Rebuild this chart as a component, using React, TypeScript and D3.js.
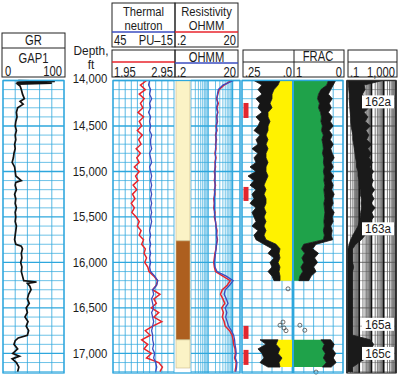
import React from 'react';
import * as d3 from 'd3';

// ---------- data ----------
const depthTicks = [14000, 14500, 15000, 15500, 16000, 16500, 17000];
const depthLabels = ['14,000', '14,500', '15,000', '15,500', '16,000', '16,500', '17,000'];
const sampleDepths = d3.range(14000, 17201, 50); // 65 sample depths

const grDepth = [14000, 14010, 14020, 14030, 14040, 14060, 14100, 14150, 14200, 14230, 14260, 14300, 14350, 14400, 14450, 14500, 14550, 14600, 14650, 14700, 14750, 14800, 14850, 14900, 14950, 15000, 15050, 15100, 15120, 15150, 15200, 15250, 15300, 15350, 15400, 15450, 15500, 15550, 15600, 15650, 15700, 15750, 15800, 15820, 15850, 15900, 15950, 16000, 16050, 16100, 16150, 16200, 16215, 16230, 16260, 16300, 16350, 16400, 16450, 16500, 16550, 16600, 16650, 16700, 16750, 16800, 16830, 16860, 16900, 16950, 17000, 17030, 17060, 17100, 17150, 17200];
const grValue = [25, 85, 22, 80, 24, 28, 30, 32, 35, 28, 33, 24, 22, 23, 21, 20, 22, 20, 21, 19, 20, 18, 17, 15, 19, 20, 21, 30, 21, 20, 22, 19, 21, 20, 22, 20, 21, 20, 22, 21, 20, 19, 21, 30, 32, 30, 31, 29, 31, 30, 32, 34, 55, 40, 44, 46, 42, 40, 43, 38, 40, 36, 41, 38, 42, 40, 25, 20, 18, 24, 16, 27, 15, 22, 26, 24];

const density = [
  2.50, 2.40, 2.48, 2.38, 2.46, 2.40, 2.44, 2.36, 2.45, 2.38,
  2.42, 2.35, 2.43, 2.37, 2.41, 2.33, 2.40, 2.34, 2.38, 2.30,
  2.38, 2.32, 2.36, 2.28, 2.34, 2.27, 2.31, 2.25, 2.30, 2.26,
  2.33, 2.38, 2.35, 2.41, 2.38, 2.45, 2.42, 2.48, 2.46, 2.50,
  2.47, 2.52, 2.54, 2.62, 2.68, 2.66, 2.60, 2.72, 2.62, 2.66,
  2.58, 2.70, 2.62, 2.75, 2.60, 2.48, 2.56, 2.42, 2.52, 2.46,
  2.58, 2.50, 2.70, 2.76, 2.72];
const neutron = [
  9, 10, 8, 9, 7, 9, 8, 10, 8, 9,
  8, 9, 7, 8, 8, 7, 9, 8, 7, 9,
  8, 7, 8, 7, 8, 7, 8, 7, 8, 7,
  8, 7, 8, 9, 8, 9, 8, 9, 8, 9,
  8, 9, 8, 4, 1, 2, 6, 5, 7, 6,
  5, 7, 6, 5, 6, 7, 6, 6, 5, 6,
  4, 5, 3, 2, 3];
const resRed = [
  9, 4.5, 2.8, 2.5, 2.2, 2.6, 2.3, 2.5, 2.2, 2.4,
  2.1, 2.3, 2.0, 2.2, 2.0, 2.1, 1.9, 2.1, 1.9, 2.0,
  1.8, 1.9, 1.8, 2.0, 1.8, 1.9, 1.7, 1.8, 1.7, 1.9,
  1.8, 2.0, 2.1, 2.3, 2.2, 2.4, 2.2, 2.1, 1.9, 1.8,
  1.7, 1.8, 2.0, 4.0, 8.0, 6.0, 3.8, 3.2, 4.0, 4.8,
  3.6, 4.2, 3.8, 4.5, 5.0, 7.5, 9.5, 10.5, 11.0, 12.5,
  13, 12, 14, 13.5, 12.5];
const resBlue = [
  11, 4, 2.6, 2.4, 2.3, 2.4, 2.2, 2.4, 2.3, 2.3,
  2.2, 2.2, 2.1, 2.1, 2.1, 2.0, 2.0, 2.0, 2.0, 1.9,
  1.9, 1.9, 1.9, 1.9, 1.9, 1.8, 1.8, 1.8, 1.8, 1.8,
  1.9, 2.0, 2.1, 2.2, 2.2, 2.3, 2.2, 2.1, 2.0, 1.9,
  1.8, 1.9, 2.3, 5.5, 10.5, 7.5, 5.0, 4.5, 5.5, 6.5,
  5.0, 5.8, 5.2, 6.0, 6.8, 9.0, 11, 12, 12.5, 13.5,
  14, 13, 15, 14.5, 13.5];

const N = null;
const phiBase = [
  .06, .07, .09, .10, .10, .11, .10, .12, .12, .11,
  .12, .12, .13, .12, .13, .12, .13, .13, .12, .13,
  .13, .12, .13, .14, .13, .14, .13, .13, .14, .13,
  .14, .13, .14, .13, .14, .13, .08, .06, .065, .06,
  .07, .06, .065, .06, .06, N, N, N, N, N,
  N, N, N, N, N, N, N, .07, .08, .06,
  .07, .05, .065, .06, N];
const phiEnv = [
  .19, .15, .17, .15, .18, .16, .17, .15, .18, .16,
  .17, .19, .16, .18, .17, .20, .17, .19, .18, .21,
  .18, .22, .19, .21, .18, .20, .19, .21, .18, .20,
  .19, .18, .20, .17, .19, .18, .14, .10, .12, .09,
  .11, .10, .12, .10, .09, N, N, N, N, N,
  N, N, N, N, N, N, N, .16, .13, .17,
  .15, .14, .16, .12, N];
const satBase = [
  .30, .33, .45, .50, .52, .48, .50, .46, .44, .45,
  .42, .44, .40, .43, .41, .40, .42, .39, .40, .38,
  .40, .38, .39, .37, .39, .38, .37, .39, .38, .37,
  .38, .39, .38, .40, .38, .40, .80, .85, .78, .84,
  .80, .86, .82, .88, .90, N, N, N, N, N,
  N, N, N, N, N, N, N, .45, .38, .42,
  .36, .40, .34, .42, N];
const satEnv = [
  .15, .20, .25, .30, .22, .28, .24, .30, .22, .26,
  .20, .28, .22, .26, .20, .25, .22, .18, .24, .20,
  .26, .19, .24, .20, .23, .18, .22, .20, .24, .18,
  .22, .20, .25, .22, .24, .21, .55, .62, .50, .58,
  .52, .60, .55, .65, .70, N, N, N, N, N,
  N, N, N, N, N, N, N, .25, .18, .22,
  .15, .20, .14, .24, N];

const res5Lo = [
  .12, .13, .14, .15, .15, .16, .17, .18, .2, .2,
  .22, .25, .3, .3, .35, .4, .45, .5, .6, .6,
  .8, .8, 1.0, 1.0, 1.2, 1.2, 1.5, 1.4, 1.5, 1.3,
  1.2, 1.0, .8, .5, .3, .2, .15, .12, .12, .12,
  .12, .12, .12, .12, .12, .12, .12, .12, .12, .12,
  .12, .12, .12, .12, .12, .12, .12, .12, .12, .12,
  .12, .12, .12, .12, .12];
const res5Hi = [
  80, 2.5, 3.0, 1.8, 4.0, 2.0, 6.0, 2.5, 5.0, 3.0,
  8, 3.5, 6, 4, 10, 5, 9, 6, 12, 7,
  15, 8, 14, 9, 18, 10, 16, 9, 20, 10,
  15, 8, 12, 5, 3, 1.5, .5, .3, .3, .3,
  .3, .35, .3, .3, .3, .3, .3, .3, .3, .3,
  .3, .3, .3, .3, .3, .3, .3, 8, 15, 10,
  6, 4, 1, .3, .3];

const lithoTop = [14000, 15763, 16851];
const lithoBottom = [15763, 16851, 17160];
const lithoType = ['sand', 'shale', 'sand'];

const flagTop = [14247, 15170, 16697, 16961];
const flagBottom = [14412, 15324, 16840, 17126];

const circleLeftDepth = [16290, 16655, 16690, 16720, 16750];
const circleLeftValue = [.02, .045, .06, .04, .03];
const circleRightDepth = [16690, 16745, 17205];
const circleRightValue = [.88, .78, .55];

const zoneNames = ['162a', '163a', '165a', '165c'];
const zoneDepth = [14235, 15630, 16680, 17000];

// ---------- styling ----------
const GRID = '#2ea7dd';
const FONT = "'Liberation Sans', Arial, sans-serif";
const TXT = '#1c1c1c';
const TOP = 80.5;
const BOT = 373;

const y = d3.scaleLinear().domain([14000, 17215]).range([TOP, BOT]);
const gridDepths = d3.range(14000, 17201, 100);

const xGR = d3.scaleLinear().domain([0, 100]).range([3, 64]);
const xNeu = d3.scaleLinear().domain([45, -15]).range([113, 174]);
const xDen = d3.scaleLinear().domain([1.95, 2.95]).range([113, 174]);
const xRes = d3.scaleLog().domain([0.2, 20]).range([191, 240]);
const xPhi = d3.scaleLinear().domain([0.25, 0]).range([242, 292]);
const xSat = d3.scaleLinear().domain([1, 0]).range([294, 343]);
const xR5 = d3.scaleLog().domain([0.1, 1000]).range([347, 396]);

function HGrid({ x0, x1, color = GRID }: { x0: number; x1: number; color?: string }) {
  return (
    <g>
      {gridDepths.map((d) => (
        <line key={d} x1={x0} x2={x1} y1={y(d)} y2={y(d)} stroke={color}
          strokeWidth={d % 500 === 0 ? 1.3 : 0.7} />
      ))}
    </g>
  );
}

function VLin({ x0, x1, n, color = GRID }: { x0: number; x1: number; n: number; color?: string }) {
  const xs = d3.range(n + 1).map((i) => x0 + ((x1 - x0) * i) / n);
  return (
    <g>
      {xs.map((x, i) => (
        <line key={i} x1={x} x2={x} y1={TOP} y2={BOT} stroke={color} strokeWidth={0.8} />
      ))}
    </g>
  );
}

function logLines(scale: d3.ScaleLogarithmic<number, number>, lo: number, hi: number) {
  const out: { v: number; major: boolean }[] = [];
  let dec = Math.pow(10, Math.floor(Math.log10(lo)));
  while (dec <= hi) {
    for (let m = 1; m <= 9; m++) {
      const v = m * dec;
      if (v >= lo * 0.999 && v <= hi * 1.001) out.push({ v, major: m === 1 });
    }
    dec *= 10;
  }
  return out.map((o) => ({ x: scale(o.v), major: o.major }));
}

function Box({ x, y0, w, h }: { x: number; y0: number; w: number; h: number }) {
  return <rect x={x} y={y0} width={w} height={h} fill="none" stroke="#222" strokeWidth={1} />;
}

function T({ x, yy, children, anchor = 'start', size = 14, sx = 0.8 }: any) {
  return (
    <text transform={`translate(${x},${yy}) scale(${sx},1)`} fontFamily={FONT} fontSize={size}
      fill={TXT} textAnchor={anchor}>
      {children}
    </text>
  );
}

export default function App() {
  const grLine = d3.line<number>().x((_, i) => xGR(grValue[i])).y((d) => y(d))(grDepth) || '';
  const denLine = d3.line<number>().x((_, i) => xDen(density[i])).y((d) => y(d))(sampleDepths) || '';
  const neuLine = d3.line<number>().x((_, i) => xNeu(neutron[i])).y((d) => y(d))(sampleDepths) || '';
  const resRLine = d3.line<number>().x((_, i) => xRes(resRed[i])).y((d) => y(d))(sampleDepths) || '';
  const resBLine = d3.line<number>().x((_, i) => xRes(resBlue[i])).y((d) => y(d))(sampleDepths) || '';

  const defined = (_: number, i: number) => phiBase[i] != null;
  const phiBlack = d3.area<number>().defined(defined)
    .x0((_, i) => xPhi(phiEnv[i] as number)).x1((_, i) => xPhi(phiBase[i] as number)).y((d) => y(d))(sampleDepths) || '';
  const phiYellow = d3.area<number>().defined(defined)
    .x0((_, i) => xPhi(phiBase[i] as number)).x1(() => xPhi(0)).y((d) => y(d))(sampleDepths) || '';
  const satGreen = d3.area<number>().defined(defined)
    .x0(() => xSat(1)).x1((_, i) => xSat(satBase[i] as number)).y((d) => y(d))(sampleDepths) || '';
  const satBlack = d3.area<number>().defined(defined)
    .x0((_, i) => xSat(satBase[i] as number)).x1((_, i) => xSat(satEnv[i] as number)).y((d) => y(d))(sampleDepths) || '';
  const r5Area = d3.area<number>()
    .x0((_, i) => xR5(res5Lo[i])).x1((_, i) => xR5(res5Hi[i])).y((d) => y(d))(sampleDepths) || '';

  const resGrid = logLines(xRes, 0.2, 20);
  const r5Grid = logLines(xR5, 0.1, 1000);

  return (
    <div style={{ position: 'absolute', left: 0, top: 0 }}>
      <svg width={400} height={378} style={{ display: 'block', background: '#fff' }}>
        {/* ---------- GR track ---------- */}
        <HGrid x0={3} x1={64} />
        <VLin x0={3} x1={64} n={5} />
        <path d={grLine} fill="none" stroke="#111" strokeWidth={1.7} />
        <rect x={3} y={TOP} width={61} height={BOT - TOP} fill="none" stroke={GRID} strokeWidth={1.3} />

        {/* ---------- depth labels ---------- */}
        <T x={91} yy={55} anchor="middle" size={12.5} sx={0.95}>Depth,</T>
        <T x={91} yy={69} anchor="middle" size={12.5} sx={0.95}>ft</T>
        {depthTicks.map((d, i) => (
          <T key={d} x={90} yy={i === 0 ? 83 : y(d) + 4.5} anchor="middle" size={13} sx={0.87}>{depthLabels[i]}</T>
        ))}

        {/* ---------- neutron / density track ---------- */}
        <HGrid x0={113} x1={174} />
        <VLin x0={113} x1={174} n={10} />
        <HGrid x0={191} x1={240} />
        {resGrid.map((g, i) => (
          <line key={i} x1={g.x} x2={g.x} y1={TOP} y2={BOT} stroke={GRID} strokeWidth={g.major ? 1.2 : 0.7} />
        ))}
        {lithoTop.map((t, i) => (
          <rect key={i} x={176} y={y(t)} width={14} height={y(lithoBottom[i]) - y(t)}
            fill={lithoType[i] === 'sand' ? '#fbf3c6' : '#ad5f1f'} stroke="#c9b98a" strokeWidth={0.6} />
        ))}
        <path d={denLine} fill="none" stroke="#e8252c" strokeWidth={1.5} />
        <path d={neuLine} fill="none" stroke="#3b4cc0" strokeWidth={1.3} />
        <path d={resRLine} fill="none" stroke="#e8252c" strokeWidth={1.5} />
        <path d={resBLine} fill="none" stroke="#3b4cc0" strokeWidth={1.3} />
        <rect x={113} y={TOP} width={127} height={BOT - TOP} fill="none" stroke={GRID} strokeWidth={1.3} />

        {/* ---------- FRAC track ---------- */}
        <HGrid x0={242} x1={343} />
        <VLin x0={242} x1={292} n={5} />
        <VLin x0={294} x1={343} n={5} />
        <path d={phiYellow} fill="#fff200" />
        <path d={phiBlack} fill="#161616" stroke="#161616" strokeWidth={0.8} />
        <path d={satGreen} fill="#1fa24a" />
        <path d={satBlack} fill="#161616" stroke="#161616" strokeWidth={0.8} />
        <line x1={293} x2={293} y1={TOP} y2={BOT} stroke={GRID} strokeWidth={2} />
        {flagTop.map((t, i) => (
          <rect key={i} x={243.5} y={y(t)} width={5} height={y(flagBottom[i]) - y(t)} fill="#e3262e" />
        ))}
        {circleLeftDepth.map((d, i) => (
          <circle key={'l' + i} cx={xPhi(circleLeftValue[i])} cy={y(d)} r={2} fill="none" stroke="#333" strokeWidth={0.7} />
        ))}
        {circleRightDepth.map((d, i) => (
          <circle key={'r' + i} cx={xSat(circleRightValue[i])} cy={y(d)} r={2} fill="none" stroke="#333" strokeWidth={0.7} />
        ))}
        <rect x={242} y={TOP} width={101} height={BOT - TOP} fill="none" stroke={GRID} strokeWidth={1.3} />

        {/* ---------- track 5 ---------- */}
        <HGrid x0={347} x1={396} color="#8a8a8a" />
        {r5Grid.map((g, i) => (
          <line key={i} x1={g.x} x2={g.x} y1={TOP} y2={BOT} stroke={g.major ? '#111' : '#555'} strokeWidth={g.major ? 1.6 : 0.8} />
        ))}
        <path d={r5Area} fill="#1a1a1a" stroke="#1a1a1a" strokeWidth={0.8} />
        {zoneNames.map((z, i) => (
          <g key={z}>
            <rect x={362} y={y(zoneDepth[i]) - 6.5} width={32} height={13} fill="#fff" />
            <T x={378} yy={y(zoneDepth[i]) + 4.5} anchor="middle" size={13} sx={0.9}>{z}</T>
          </g>
        ))}
        <rect x={347} y={TOP} width={49} height={BOT - TOP} fill="none" stroke="#333" strokeWidth={1.2} />

        {/* ---------- headers ---------- */}
        <Box x={2} y0={33} w={63} h={44} />
        <line x1={2} x2={65} y1={48} y2={48} stroke="#222" />
        <T x={33.5} yy={45} anchor="middle">GR</T>
        <T x={33.5} yy={63} anchor="middle">GAP1</T>
        <T x={5} yy={75.5}>0</T>
        <T x={62} yy={75.5} anchor="end">100</T>

        <Box x={112} y0={3} w={63} h={44} />
        <line x1={112} x2={175} y1={32} y2={32} stroke="#3b4cc0" strokeWidth={1.3} />
        <T x={143.5} yy={15.5} anchor="middle" size={12.5} sx={0.9}>Thermal</T>
        <T x={143.5} yy={29.5} anchor="middle" size={12.5} sx={0.9}>neutron</T>
        <T x={114} yy={45}>45</T>
        <T x={173} yy={45} anchor="end">PU–15</T>
        <Box x={112} y0={50} w={63} h={27} />
        <line x1={112} x2={175} y1={62} y2={62} stroke="#e8252c" strokeWidth={1.3} />
        <T x={114} yy={76.5}>1.95</T>
        <T x={173} yy={76.5} anchor="end">2.95</T>

        <Box x={175} y0={3} w={63} h={44} />
        <line x1={175} x2={238} y1={32} y2={32} stroke="#e8252c" strokeWidth={1.3} />
        <T x={206.5} yy={15.5} anchor="middle" size={12.5} sx={0.9}>Resistivity</T>
        <T x={206.5} yy={29.5} anchor="middle" size={12.5} sx={0.9}>OHMM</T>
        <T x={177} yy={45}>.2</T>
        <T x={236} yy={45} anchor="end">20</T>
        <Box x={175} y0={50} w={63} h={27} />
        <line x1={175} x2={238} y1={63} y2={63} stroke="#3b4cc0" strokeWidth={1.3} />
        <T x={206.5} yy={61.5} anchor="middle">OHMM</T>
        <T x={177} yy={76.5}>.2</T>
        <T x={236} yy={76.5} anchor="end">20</T>

        <Box x={243} y0={50} w={101} h={27} />
        <line x1={243} x2={344} y1={62} y2={62} stroke="#222" />
        <line x1={294} x2={294} y1={50} y2={77} stroke="#222" />
        <T x={318} yy={61} anchor="middle">FRAC</T>
        <T x={245} yy={76.5}>.25</T>
        <T x={292} yy={76.5} anchor="end">.0</T>
        <T x={296} yy={76.5}>1</T>
        <T x={342} yy={76.5} anchor="end">0</T>

        <Box x={348} y0={50} w={49} h={27} />
        <line x1={348} x2={397} y1={62} y2={62} stroke="#222" />
        <T x={350} yy={76.5}>.1</T>
        <T x={395} yy={76.5} anchor="end">1,000</T>
      </svg>
    </div>
  );
}
